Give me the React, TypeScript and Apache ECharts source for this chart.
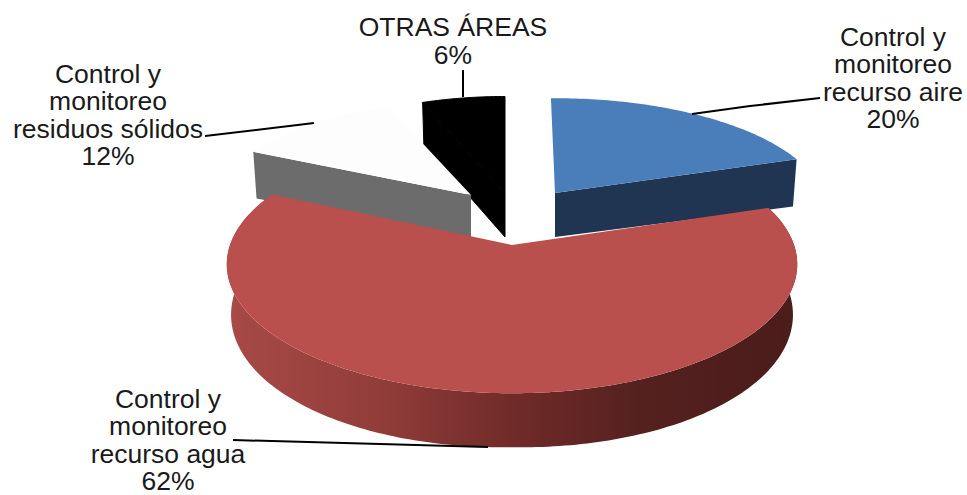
import React, { useEffect, useRef } from "react";
import * as echarts from "echarts";

const categories = [
  "Control y\nmonitoreo\nrecurso aire",
  "Control y\nmonitoreo\nrecurso agua",
  "Control y\nmonitoreo\nresiduos sólidos",
  "OTRAS ÁREAS",
];
const values = [20, 62, 12, 6];

const topColors = ["#4a7ebb", "#b9504e", "#fdfdfd", "#000000"];
const wallColors = ["#1f3552", "", "#6c6c6c", "#000000"];

// Screen placement of each exploded slice: tip position and projected radii.
const sliceLayout = [
  { ax: 555, ay: 193, rx: 268, ry: 109, rot: -1, z: 2 },
  { ax: 512, ay: 245, rx: 282, ry: 126, rot: 0, z: 4 },
  { ax: 471, ay: 195, rx: 256, ry: 108, rot: 0, z: 3 },
  { ax: 505, ay: 193, rx: 255, ry: 111, rot: 0, z: 1 },
];
const labelLayout = [
  { x: 893, y: 78 },
  { x: 168, y: 440 },
  { x: 108, y: 115 },
  { x: 453, y: 41 },
];
const leaders = [
  [[692, 114], [750, 106], [820, 98]],
  [[233, 440], [488, 447]],
  [[205, 136], [314, 123]],
  [[463, 70], [463, 97]],
];

const PERSPECTIVE = 0.15;
const BOTTOM_SHRINK = 0.985;
const FONT_SIZE = 26.5;
const LINE_HEIGHT = 27.5;

function wallDepth(u: number, v: number) {
  return 44 + 5 * Math.abs(u) + 10 * (v > 0 ? v : 0.4 * v);
}

function project(i: number, deg: number, r: number, bottom: boolean): number[] {
  const l = sliceLayout[i];
  const a = ((deg + l.rot) * Math.PI) / 180;
  const u = Math.sin(a);
  const v = -Math.cos(a);
  const w = 1 - PERSPECTIVE * v * r;
  const x = (l.rx * u * r) / w;
  const y = (l.ry * v * r) / w;
  if (!bottom) return [l.ax + x, l.ay + y];
  return [l.ax + x * BOTTOM_SHRINK, l.ay + y + wallDepth(u * r, v * r)];
}

function arc(i: number, from: number, to: number, bottom: boolean): number[][] {
  const n = Math.max(8, Math.ceil(Math.abs(to - from)));
  const pts: number[][] = [];
  for (let k = 0; k <= n; k++) pts.push(project(i, from + ((to - from) * k) / n, 1, bottom));
  return pts;
}

function renderSlice(params: any, api: any) {
  const i = params.dataIndex;
  const total = values.reduce((s, x) => s + x, 0);
  const before = values.slice(0, i).reduce((s, x) => s + x, 0);
  const start = (before / total) * 360;
  const end = start + (api.value(0) / total) * 360;
  const z2 = sliceLayout[i].z * 10;
  const tip = project(i, 0, 0, false);
  const tipLow = project(i, 0, 0, true);
  const children: any[] = [];
  // The black slice's two faces share one colour: close the seam between them.
  const seam = i === 3 ? { stroke: "#000000", lineWidth: 1 } : {};

  if (i === 1) {
    children.push({
      type: "polygon",
      z2,
      shape: { points: [...arc(i, start, end, false), ...arc(i, end, start, true)] },
      style: {
        fill: new echarts.graphic.LinearGradient(0, 0, 1, 0, [
          { offset: 0, color: "#a84a47" },
          { offset: 0.28, color: "#903c39" },
          { offset: 0.5, color: "#702b29" },
          { offset: 0.72, color: "#55211f" },
          { offset: 1, color: "#4a1c1a" },
        ]),
      },
    });
  } else {
    // Cut face: the edge towards the viewer, extruded down.
    const edge = i === 0 ? end : start;
    children.push({
      type: "polygon",
      z2,
      shape: { points: [tip, project(i, edge, 1, false), project(i, edge, 1, true), tipLow] },
      style: { fill: wallColors[i], ...seam },
    });
  }
  children.push({
    type: "polygon",
    z2: z2 + 1,
    shape: { points: [tip, ...arc(i, start, end, false)] },
    style: { fill: topColors[i], ...seam },
  });
  return { type: "group", children };
}

export default function App() {
  const ref = useRef<HTMLDivElement>(null);
  useEffect(() => {
    document.body.style.margin = "0";
    const chart = echarts.init(ref.current!, undefined, { renderer: "svg" });
    chart.setOption({
      animation: false,
      backgroundColor: "#ffffff",
      series: [
        {
          type: "custom",
          coordinateSystem: "none",
          silent: true,
          z: 1,
          renderItem: renderSlice,
          data: values,
        },
      ],
      graphic: [
        ...leaders.map((pts) => ({
          type: "polyline",
          z: 5,
          silent: true,
          shape: { points: pts },
          style: { stroke: "#000000", lineWidth: 2, fill: "none" },
        })),
        ...categories.map((name, i) => ({
          type: "text",
          z: 6,
          silent: true,
          x: labelLayout[i].x,
          y: labelLayout[i].y,
          style: {
            text: `${name}\n${values[i]}%`,
            fill: "#1a1a1a",
            font: `${FONT_SIZE}px "Liberation Sans", Arial, sans-serif`,
            lineHeight: LINE_HEIGHT,
            align: "center",
            verticalAlign: "middle",
          },
        })),
      ],
    });
    return () => chart.dispose();
  }, []);
  return <div ref={ref} style={{ width: 967, height: 495, display: "block" }} />;
}
